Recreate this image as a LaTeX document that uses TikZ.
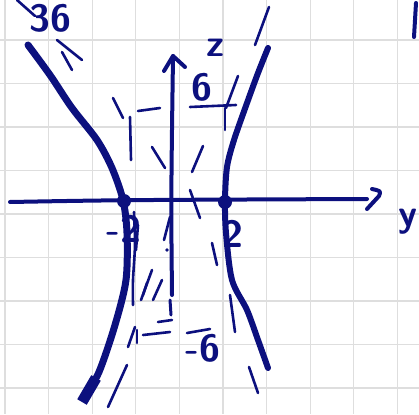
\documentclass[tikz,border=0pt]{standalone}
\begin{document}
\begin{tikzpicture}[x=1pt,y=-1pt,
  ink/.style={draw=inkc,line cap=round,line join=round},
  thick curve/.style={ink,line width=7pt},
  axisline/.style={ink,line width=4pt},
  thin stroke/.style={ink,line width=2.6pt},
  label/.style={text=inkc,inner sep=0pt,font=\fontsize{38}{38}\selectfont\sffamily\bfseries}]
\definecolor{inkc}{RGB}{12,16,126}
\definecolor{gridc}{RGB}{222,222,222}
\useasboundingbox (0,0) rectangle (419,414);
\clip (0,0) rectangle (419,414);
% grid
\foreach \i in {0,...,9} {
  \draw[gridc,line width=1.2pt] ({5+43.6*\i},0) -- ({5+43.6*\i},414);
}
\foreach \j in {-1,0,...,8} {
  \draw[gridc,line width=1.2pt] (0,{40+43.5*\j}) -- (419,{40+43.5*\j});
}
% axes
\coordinate (hl) at (10,202);
\coordinate (hr) at (367,199);
\draw[axisline] (hl) .. controls (120,200) .. (hr);
\coordinate (ha1) at (372,189);
\coordinate (ha2) at (379,196);
\coordinate (ha3) at (367,209);
\draw[axisline] (ha1) .. controls (381,191) .. (ha2) -- (ha3);
\coordinate (vt) at (173,56);
\coordinate (vb) at (172,295);
\draw[axisline] (vt) .. controls (171,200) .. (vb);
\coordinate (va1) at (164,71);
\coordinate (va2) at (185,67);
\draw[axisline] (va1) -- (vt) -- (va2);
\draw[thin stroke,line width=3pt] (170,300) -- (171,315);
% hyperbola branches
\draw[thick curve] plot[smooth] coordinates {(28,45) (50,75) (72,108) (97,140) (112,168) (123,200) (127,233) (126,280) (115,325) (99,372) (84,398)};
\draw[ink,line width=11pt,line cap=butt] (96,378) -- (82,402);
\draw[thick curve,line width=6pt] plot[smooth] coordinates {(268,48) (258,73) (247,103) (234,140) (227,167) (225,200) (226,233) (232,280) (247,310) (258,340) (268,368)};
\fill[inkc] (124,201) circle (7);
\fill[inkc] (225,202) circle (7);
% thin sketch strokes
\draw[thin stroke] (57,40) -- (82,60);
\draw[thin stroke] (62,52) -- (72,70);
\draw[thin stroke] (17,0) -- (35,16);
\draw[thin stroke] (113,98) -- (123,118);
\draw[thin stroke] (130,117) -- (131,160);
\draw[thin stroke] (138,111) -- (160,108);
\draw[thin stroke] (190,107) -- (236,105);
\draw[thin stroke] (225,108) -- (225,130);
\draw[thin stroke] (238,76) -- (226,108);
\draw[thin stroke] (269,7) -- (255,45);
\draw[thin stroke] (152,147) -- (165,168);
\draw[thin stroke] (203,146) -- (192,172);
\draw[thin stroke] (190,190) -- (200,218);
\draw[thin stroke] (170,217) -- (164,240);
\fill[inkc] (167,250) circle (1.8);
\draw[thin stroke] plot[smooth] coordinates {(134,212) (135,245) (133,280) (133,305)};
\draw[thin stroke] (138,225) -- (136,250);
\draw[thin stroke] (147,283) -- (143,295);
\draw[thin stroke] (152,270) -- (141,300);
\draw[thin stroke] (162,280) -- (153,300);
\draw[thin stroke] (135,327) -- (128,347);
\draw[thin stroke] (137,330) -- (137,343);
\draw[thin stroke] (127,365) -- (108,407);
\draw[thin stroke] (158,322) -- (172,320);
\draw[thin stroke] (143,335) -- (170,332);
\draw[thin stroke] (187,333) -- (210,329);
\draw[thin stroke] (212,243) -- (217,265);
\draw[thin stroke] (230,295) -- (235,332);
\draw[thin stroke] (249,367) -- (258,393);
\draw[ink,line width=4pt] (416,3) -- (414,37);
% labels
\node[label,anchor=south] (l36) at (50,33) {36};
\node[label] (lz) at (216,48) {z};
\node[label] (l6t) at (202,87) {6};
\node[label] (lm2) at (124,229) {-2};
\node[label] (l2) at (233,234) {2};
\node[label] (lm6) at (203,348) {-6};
\node[label,anchor=east] (ly) at (418,222) {y};
\end{tikzpicture}
\end{document}
